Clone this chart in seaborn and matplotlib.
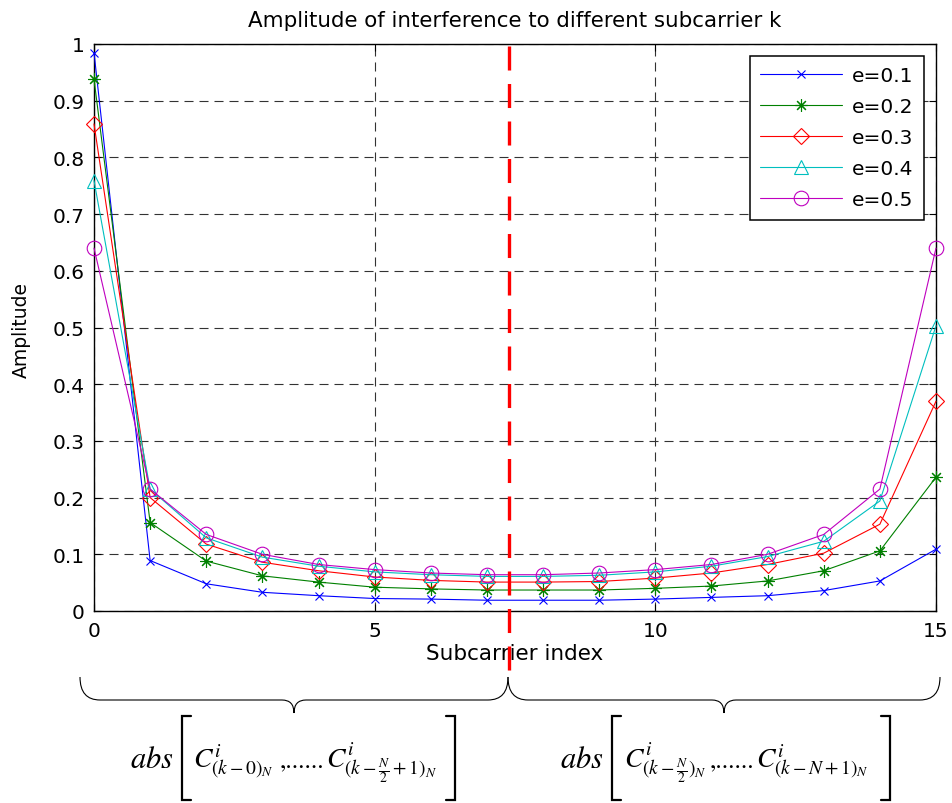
import numpy as np
import pandas as pd
import matplotlib
matplotlib.use('Agg')
import matplotlib.pyplot as plt
import seaborn as sns
from matplotlib.path import Path
from matplotlib.patches import PathPatch

# amplitude, subcarrier 0..15
subcarrier = list(range(16))
e_labels = ['e=0.1', 'e=0.2', 'e=0.3', 'e=0.4', 'e=0.5']
amp_e01 = [0.985, 0.089, 0.048, 0.033, 0.027, 0.022, 0.021, 0.019,
           0.019, 0.019, 0.021, 0.024, 0.027, 0.036, 0.053, 0.109]
amp_e02 = [0.938, 0.156, 0.088, 0.062, 0.051, 0.042, 0.039, 0.037,
           0.037, 0.037, 0.040, 0.044, 0.053, 0.071, 0.106, 0.236]
amp_e03 = [0.859, 0.200, 0.118, 0.086, 0.071, 0.060, 0.054, 0.051,
           0.051, 0.052, 0.058, 0.067, 0.082, 0.102, 0.153, 0.370]
amp_e04 = [0.759, 0.215, 0.129, 0.095, 0.079, 0.069, 0.064, 0.061,
           0.061, 0.063, 0.069, 0.079, 0.096, 0.123, 0.194, 0.503]
amp_e05 = [0.640, 0.215, 0.135, 0.100, 0.082, 0.073, 0.067, 0.064,
           0.064, 0.067, 0.073, 0.082, 0.100, 0.135, 0.215, 0.640]
divider_x = 7.39

colors = ['blue', 'green', 'red', 'c', 'm']
markers = ['x', (8, 2, 0), 'D', '^', 'o']
msizes = [5.5, 9, 8.2, 10.5, 10.5]

df = pd.DataFrame({
    'subcarrier': subcarrier * 5,
    'amplitude': amp_e01 + amp_e02 + amp_e03 + amp_e04 + amp_e05,
    'e': np.repeat(e_labels, len(subcarrier)),
})

sns.set_style('white')
plt.rcParams['font.family'] = ['DejaVu Sans']
plt.rcParams['mathtext.fontset'] = 'stix'
plt.rcParams['lines.scale_dashes'] = False
plt.rcParams['text.color'] = 'black'
plt.rcParams['axes.labelcolor'] = 'black'

W, H = 952, 804
fig = plt.figure(figsize=(W / 100, H / 100), dpi=100)
ax = fig.add_axes([94 / W, 1 - 612 / H, (936 - 94) / W, (612 - 45) / H])

for lab, c, m, ms in zip(e_labels, colors, markers, msizes):
    sns.lineplot(data=df[df['e'] == lab], x='subcarrier', y='amplitude',
                 color=c, marker=m, markersize=ms, mfc='none', mec=c,
                 mew=0.8, lw=0.8, label=lab, ax=ax, clip_on=False, zorder=3)

ax.set_xlim(0, 15)
ax.set_ylim(0, 1)
ax.set_xticks([0, 5, 10, 15])
ax.set_xticklabels(['0', '5', '10', '15'])
yt = np.round(np.arange(0, 1.01, 0.1), 1)
ax.set_yticks(yt)
ax.set_yticklabels(['0' if v == 0 else ('1' if v == 1 else f'{v:g}') for v in yt])
ax.set_axisbelow(True)
ax.grid(True, color='0.2', lw=0.8, linestyle=(0, (6.5, 4.3)))
ax.tick_params(direction='in', length=5, width=0.8, top=True, right=True,
               bottom=True, left=True, labelsize=14.5, pad=7, colors='black')
for sp in ax.spines.values():
    sp.set_visible(True)
    sp.set_color('black')
    sp.set_linewidth(1)

ax.set_title('Amplitude of interference to different subcarrier k',
             fontsize=15.4, pad=13, color='black')
ax.set_xlabel('Subcarrier index', fontsize=15.5)
ax.xaxis.set_label_coords(0.5, -0.057)
ax.set_ylabel('Amplitude', fontsize=13.5)
ax.yaxis.set_label_coords(-0.075, 0.497)

leg = ax.legend(loc='upper right', fontsize=14.5, handlelength=4.1,
                handletextpad=0.5, labelspacing=0.6, borderpad=0.5,
                borderaxespad=0.6, fancybox=False, framealpha=1,
                edgecolor='black')
leg.get_frame().set_linewidth(1.1)

# red divider between the two halves, runs below the axis
ax.plot([divider_x, divider_x], [0.9965, -0.1058], color='red', lw=2.4,
        linestyle=(0, (17.3, 9.7)), transform=ax.get_xaxis_transform(),
        clip_on=False, zorder=5)

# braces and formulas below the plot, in pixel coordinates
ov = fig.add_axes([0, 0, 1, 1])
ov.set_xlim(0, W)
ov.set_ylim(H, 0)
ov.axis('off')


def brace(x0, x1, ytop, yh, ytip, r=20, rt=12):
    xm = (x0 + x1) / 2
    verts = [(x0, ytop), (x0, yh), (x0 + r, yh),
             (xm - rt, yh), (xm, yh), (xm, ytip),
             (xm, yh), (xm + rt, yh),
             (x1 - r, yh), (x1, yh), (x1, ytop)]
    codes = [Path.MOVETO, Path.CURVE3, Path.CURVE3,
             Path.LINETO, Path.CURVE3, Path.CURVE3,
             Path.CURVE3, Path.CURVE3,
             Path.LINETO, Path.CURVE3, Path.CURVE3]
    ov.add_patch(PathPatch(Path(verts, codes), fill=False, lw=0.8,
                           edgecolor='black'))


def bracket(x, side, y0=717, y1=801, w=9):
    d = w if side == 'left' else -w
    ov.plot([x + d, x, x, x + d], [y0, y0, y1, y1], color='black',
            lw=1.6, solid_joinstyle='miter')


def formula(x_abs, x_lb, x_rb, parts, base=768, fs=20):
    ov.text(x_abs, base, r'$abs$', fontsize=22, ha='left', va='baseline')
    bracket(x_lb, 'left')
    bracket(x_rb, 'right')
    for x, s, f in parts:
        ov.text(x, base, s, fontsize=f, ha='left', va='baseline',
                family='STIXGeneral')


brace(80, 508, 678, 701, 714)
brace(508, 940, 678, 701, 714)

formula(130, 182, 455, [(193, r'$C^{i}_{(k-0)_N}$', 20),
                        (280, ',......', 18.5),
                        (326, r'$C^{i}_{(k-\frac{N}{2}+1)_N}$', 20)])
formula(560, 612, 890, [(624, r'$C^{i}_{(k-\frac{N}{2})_N}$', 20),
                        (710, ',......', 18.5),
                        (756, r'$C^{i}_{(k-N+1)_N}$', 20)])

fig.savefig('out.png', dpi=100)
